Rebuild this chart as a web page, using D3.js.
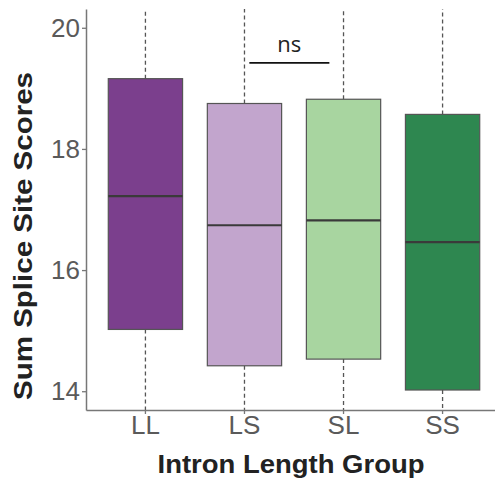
<!DOCTYPE html>
<html>
<head>
<meta charset="utf-8">
<script src="https://cdn.jsdelivr.net/npm/d3@7"></script>
<style>
  body { margin: 0; background: #fff; }
  svg { display: block; }
</style>
</head>
<body>
<div id="chart"></div>
<script>
// Boxplot of summed splice site scores per intron length group

let groups = ['LL', 'LS', 'SL', 'SS'];
let q1 = [15.02, 14.42, 14.53, 14.02];
let medians = [17.22, 16.74, 16.82, 16.46];
let q3 = [19.16, 18.75, 18.82, 18.57];
// whiskers run past the visible range (clipped at panel edges)
let whiskerLow = [12.0, 11.5, 11.8, 11.0];
let whiskerHigh = [21.5, 21.5, 21.5, 21.5];
let boxColors = ['#7b3f8d', '#c2a5cd', '#a8d5a0', '#2e8750'];
let yTicks = [14, 16, 18, 20];

let drawChart = function(){
    let width = 495, height = 485;
    let left = 86, top = 9, bottom = 410, right = 502;

    let svg = d3.select('#chart').append('svg')
        .attr('width', width)
        .attr('height', height);

    let xScale = d3.scaleBand()
        .domain(groups)
        .range([left, right])
        .paddingInner(0.25)
        .paddingOuter(0.225);

    let yScale = d3.scaleLinear()
        .domain([13.69, 20.31])
        .range([bottom, top])
        .clamp(true);

    let boxes = svg.selectAll('.box').data(groups)
        .enter().append('g')
        .attr('class', 'box');

    // dashed whiskers
    boxes.append('line')
        .attr('x1', d => xScale(d) + xScale.bandwidth() / 2)
        .attr('x2', d => xScale(d) + xScale.bandwidth() / 2)
        .attr('y1', (d, i) => yScale(q3[i]))
        .attr('y2', (d, i) => yScale(whiskerHigh[i]))
        .attr('stroke', '#555')
        .attr('stroke-width', 1.3)
        .attr('stroke-dasharray', '4,3');

    boxes.append('line')
        .attr('x1', d => xScale(d) + xScale.bandwidth() / 2)
        .attr('x2', d => xScale(d) + xScale.bandwidth() / 2)
        .attr('y1', (d, i) => yScale(q1[i]))
        .attr('y2', (d, i) => yScale(whiskerLow[i]))
        .attr('stroke', '#555')
        .attr('stroke-width', 1.3)
        .attr('stroke-dasharray', '4,3');

    boxes.append('rect')
        .attr('x', d => xScale(d))
        .attr('y', (d, i) => yScale(q3[i]))
        .attr('width', xScale.bandwidth())
        .attr('height', (d, i) => yScale(q1[i]) - yScale(q3[i]))
        .attr('fill', (d, i) => boxColors[i])
        .attr('stroke', '#555')
        .attr('stroke-width', 1.2);

    boxes.append('line')
        .attr('x1', d => xScale(d))
        .attr('x2', d => xScale(d) + xScale.bandwidth())
        .attr('y1', (d, i) => yScale(medians[i]))
        .attr('y2', (d, i) => yScale(medians[i]))
        .attr('stroke', '#3a3a3a')
        .attr('stroke-width', 2.2);

    // axes
    let yAxis = svg.append('g')
        .attr('transform', 'translate(' + left + ',0)')
        .call(d3.axisLeft(yScale).tickValues(yTicks).tickFormat(d3.format('d'))
            .tickSize(4).tickPadding(2).tickSizeOuter(0));

    let xAxis = svg.append('g')
        .attr('transform', 'translate(0,' + bottom + ')')
        .call(d3.axisBottom(xScale).tickSize(4).tickPadding(1.5).tickSizeOuter(0));

    [xAxis, yAxis].forEach(function(ax){
        ax.select('.domain').attr('stroke', '#777').attr('stroke-width', 1.5);
        ax.selectAll('.tick line').attr('stroke', '#777').attr('stroke-width', 1.3);
        ax.selectAll('.tick text')
            .attr('fill', '#5a5a5a')
            .style('font-family', 'Liberation Sans, Arial, sans-serif')
            .style('font-size', '26px');
    });

    // significance bracket between LS and SL
    let bx1 = xScale('LS') + 42, bx2 = xScale('SL') + 23;
    svg.append('line')
        .attr('x1', bx1)
        .attr('x2', bx2)
        .attr('y1', yScale(19.42))
        .attr('y2', yScale(19.42))
        .attr('stroke', '#111')
        .attr('stroke-width', 1.8);

    svg.append('text')
        .text('ns')
        .attr('x', (bx1 + bx2) / 2)
        .attr('y', 52)
        .attr('text-anchor', 'middle')
        .attr('fill', '#222')
        .style('font-family', 'Open Sans, sans-serif')
        .style('font-size', '22px');

    // axis titles
    svg.append('text')
        .text('Intron Length Group')
        .attr('x', 291)
        .attr('y', 473)
        .attr('text-anchor', 'middle')
        .attr('fill', '#222')
        .attr('textLength', 267)
        .attr('lengthAdjust', 'spacingAndGlyphs')
        .style('font-family', 'Liberation Sans, Arial, sans-serif')
        .style('font-weight', 'bold')
        .style('font-size', '26px');

    svg.append('text')
        .text('Sum Splice Site Scores')
        .attr('transform', 'translate(32,236) rotate(-90)')
        .attr('text-anchor', 'middle')
        .attr('fill', '#222')
        .attr('textLength', 328)
        .attr('lengthAdjust', 'spacingAndGlyphs')
        .style('font-family', 'Liberation Sans, Arial, sans-serif')
        .style('font-weight', 'bold')
        .style('font-size', '26px');
};

drawChart();
</script>
</body>
</html>
